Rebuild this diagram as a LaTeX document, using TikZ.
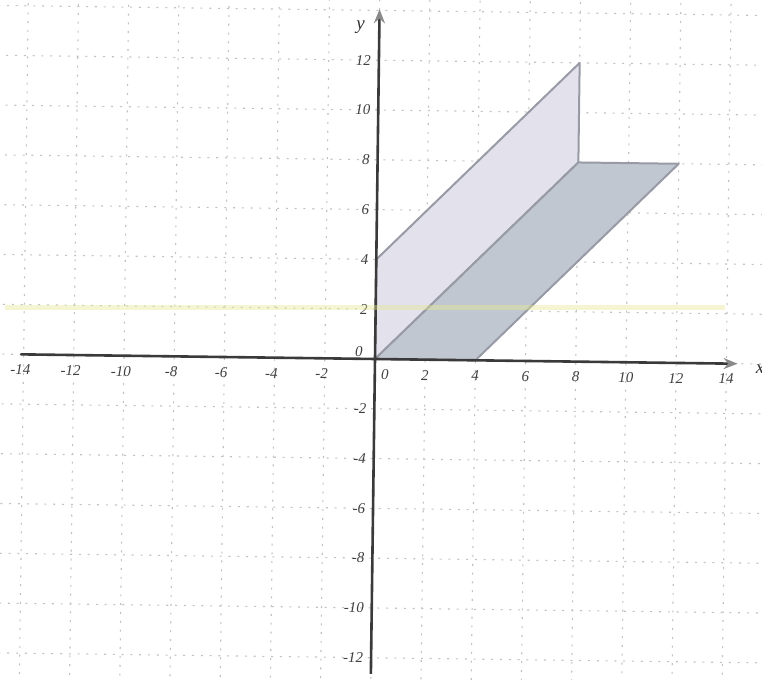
\documentclass[tikz,border=0pt]{standalone}
\usepackage{fontspec}
\setmainfont{Liberation Serif}
\usetikzlibrary{arrows.meta}
\definecolor{lightplane}{HTML}{E2E1EC}
\definecolor{darkplane}{HTML}{C1C7D1}
\definecolor{planeedge}{HTML}{989BA5}
\definecolor{axiscol}{HTML}{3A3A3A}
\definecolor{gridcol}{HTML}{C2C2C2}
\definecolor{hilite}{HTML}{E6EA8C}
\definecolor{tipcol}{HTML}{8A8A8A}
\tikzset{
  gridline/.style={draw=gridcol, line width=0.55pt, dash pattern=on 1pt off 3.4pt},
  axisline/.style={draw=axiscol, line width=1.3pt},
  upperplane/.style={fill=lightplane, draw=planeedge, line width=1pt, line join=round},
  lowerplane/.style={fill=darkplane, draw=planeedge, line width=1pt, line join=round},
  ticklab/.style={font=\fontsize{7.5}{9}\selectfont\itshape, text=black!75, inner sep=0pt},
  axislab/.style={font=\fontsize{9.5}{11}\selectfont\itshape, text=black!80, inner sep=0pt},
  highlight/.style={draw=hilite, line width=2.5pt, opacity=0.4},
  axtip/.style={-{Stealth[length=7pt,width=5.5pt,color=tipcol,fill=tipcol]}}
}
\begin{document}
\begin{tikzpicture}[x=0.5pt,y=0.5pt]
\useasboundingbox (0,0) rectangle (762,680);
\fill[white] (0,0) rectangle (762,680);
\begin{scope}[shift={(187.5pt,160.5pt)}, rotate=-0.75, x=12.55pt, y=12.45pt]
  % grid
  \foreach \gx in {-14,-12,...,14} { \draw[gridline] (\gx,-13.2) -- (\gx,14.6); }
  \foreach \gy in {-12,-10,...,14} { \draw[gridline] (-15.2,\gy) -- (15.6,\gy); }
  % planes
  \coordinate (O) at (0,0);
  \coordinate (A) at (0,4);
  \coordinate (B) at (8,12);
  \coordinate (C) at (8,8);
  \coordinate (D) at (12,8);
  \coordinate (E) at (4,0);
  \draw[upperplane] (O) -- (A) -- (B) -- (C) -- cycle;
  \draw[lowerplane] (O) -- (C) -- (D) -- (E) -- cycle;
  % axes
  \coordinate (xleft) at (-14.1,0);
  \coordinate (xright) at (14.45,0);
  \coordinate (ybottom) at (0,-12.65);
  \coordinate (ytop) at (0,14.05);
  \draw[axisline, line cap=round, axtip] (xleft) -- (xright);
  \draw[axisline, axtip] (ybottom) -- (ytop);
  % x tick labels
  \node[ticklab] (x0) at (0.4,-0.62) {0};
  \foreach \k in {2,4,...,14} { \node[ticklab] (xp\k) at (\k,-0.62) {\k}; }
  \foreach \k in {2,4,...,14} { \node[ticklab] (xn\k) at (-\k-0.12,-0.62) {-\k}; }
  % y tick labels
  \node[ticklab] (y0) at (-0.65,0.28) {0};
  \foreach \k in {2,4,...,12} { \node[ticklab, anchor=east] (yp\k) at (-0.3,\k) {\k}; }
  \foreach \k in {2,4,...,12} { \node[ticklab, anchor=east] (yn\k) at (-0.3,-\k) {-\k}; }
  % axis names
  \node[axislab] (ylab) at (-0.75,13.3) {y};
  \node[axislab] (xlab) at (15.35,-0.2) {x};
\end{scope}
% scan highlight stroke
\coordinate (hl1) at (5,372);
\coordinate (hl2) at (725,372);
\draw[highlight] (hl1) -- (hl2);
\end{tikzpicture}
\end{document}
